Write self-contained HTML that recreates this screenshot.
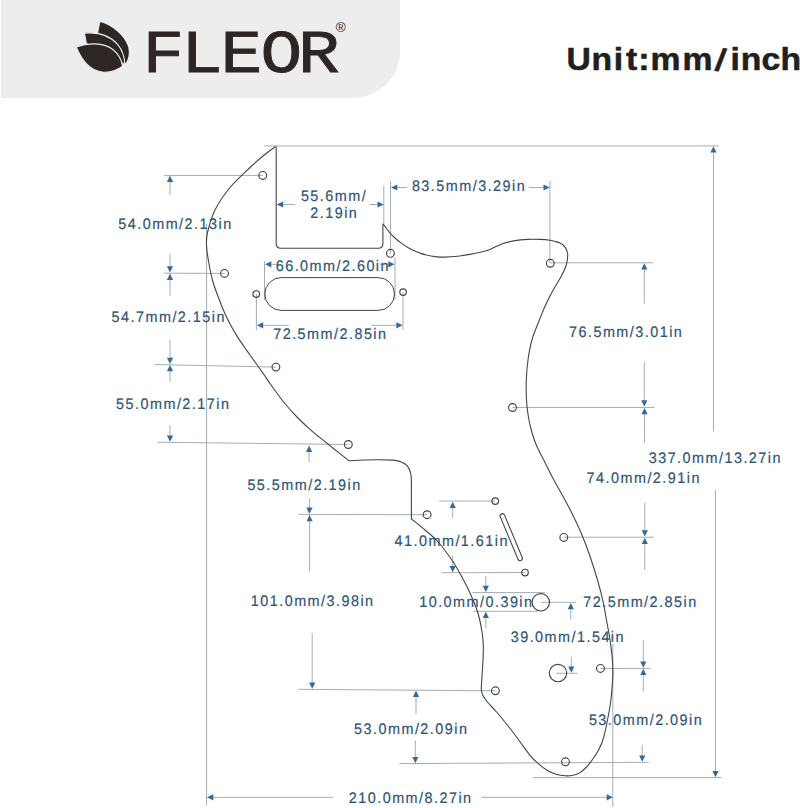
<!DOCTYPE html>
<html lang="en">
<head>
<meta charset="utf-8">
<title>FLEOR pickguard dimensions</title>
<style>
html,body{margin:0;padding:0;background:#fff;}
body{width:800px;height:808px;overflow:hidden;position:relative;font-family:"Liberation Sans",sans-serif;}
#hdr{position:absolute;left:1px;top:0;width:399px;height:98px;background:#ededed;border-bottom-right-radius:48px 46px;}
svg{position:absolute;left:0;top:0;}
svg text{font-family:"Liberation Sans",sans-serif;}
.dim text{font-size:15.3px;letter-spacing:1.57px;fill:#2d5576;stroke:#2d5576;stroke-width:0.2px;text-rendering:geometricPrecision;}
</style>
</head>
<body>
<div id="hdr"></div>

<svg width="800" height="808" viewBox="0 0 800 808">
<g id="logo" fill="#2e2624">
<path d="M100.3 21.9 C112 25.2 123.5 34.5 127.6 45.5 C129.6 51 129.2 57.5 125.7 63.2 L112 48 L98.2 32.6Z"/>
<path d="M84.4 33.1 C98.5 31.8 110.5 36 117.8 44.6 C122.3 50 124.6 57 124.8 64.6 L108 54 L86.3 43.4Z" stroke="#ededed" stroke-width="1.1" stroke-linejoin="round"/>
<path d="M76.3 46.9 C88 42.6 103 42.4 112.2 49 C118 53.3 121.6 59.3 122.6 66.2 C116 71 109 72.6 102.5 72.1 C91 70.8 82 61 76.3 46.9Z" stroke="#ededed" stroke-width="1.1" stroke-linejoin="round"/>
<text id="brand" transform="translate(147.5 72.3) scale(1.14 1)" x="-4.3 29.4 64.0 99.2 132.0" y="0" font-size="61" stroke="#2e2624" stroke-width="0.8" style="font-family:'Liberation Mono',monospace">FLEOR</text>
<text id="reg" x="340.8" y="32.1" font-size="13.6" text-anchor="middle">&#174;</text>
</g>
<text id="unit" transform="scale(1.07 1)" x="529.5 552.8 573.6 585.0 596.6 608.0 637.9 667.6 682.8 692.3 711.7 729.4" y="69.9" rotate="0 0 0 0 0 0 0 9 0 0 0 0" font-size="31.5" font-weight="bold" fill="#231f1f" stroke="#231f1f" stroke-width="0.55">Unit:mm/inch</text>
<g class="lines" fill="none">
<line x1="264.00" y1="145.90" x2="718.80" y2="145.90" stroke="#a3adb8" stroke-width="1"/>
<line x1="713.50" y1="431.30" x2="713.50" y2="151.60" stroke="#a3adb8" stroke-width="1"/>
<polygon points="713.50,146.30 716.60,152.60 710.40,152.60" fill="#356a97"/>
<line x1="715.50" y1="490.00" x2="715.50" y2="771.90" stroke="#a3adb8" stroke-width="1"/>
<polygon points="715.50,777.20 712.40,770.90 718.60,770.90" fill="#356a97"/>
<line x1="533.00" y1="777.60" x2="721.30" y2="777.60" stroke="#a3adb8" stroke-width="1"/>
<line x1="206.60" y1="224.00" x2="206.60" y2="805.50" stroke="#a3adb8" stroke-width="1"/>
<line x1="612.80" y1="644.00" x2="612.80" y2="806.80" stroke="#a3adb8" stroke-width="1"/>
<line x1="333.00" y1="797.30" x2="212.30" y2="797.30" stroke="#a3adb8" stroke-width="1"/>
<polygon points="207.00,797.30 213.30,794.20 213.30,800.40" fill="#356a97"/>
<line x1="481.30" y1="797.30" x2="607.60" y2="797.30" stroke="#a3adb8" stroke-width="1"/>
<polygon points="612.90,797.30 606.60,800.40 606.60,794.20" fill="#356a97"/>
<line x1="164.00" y1="175.40" x2="262.80" y2="175.40" stroke="#a3adb8" stroke-width="1"/>
<line x1="170.00" y1="195.00" x2="170.00" y2="181.10" stroke="#a3adb8" stroke-width="1"/>
<polygon points="170.00,175.80 173.10,182.10 166.90,182.10" fill="#356a97"/>
<line x1="170.00" y1="253.80" x2="170.00" y2="267.30" stroke="#a3adb8" stroke-width="1"/>
<polygon points="170.00,272.60 166.90,266.30 173.10,266.30" fill="#356a97"/>
<line x1="164.00" y1="273.20" x2="224.50" y2="273.40" stroke="#a3adb8" stroke-width="1"/>
<line x1="170.00" y1="296.00" x2="170.00" y2="278.90" stroke="#a3adb8" stroke-width="1"/>
<polygon points="170.00,273.60 173.10,279.90 166.90,279.90" fill="#356a97"/>
<line x1="170.00" y1="340.00" x2="170.00" y2="358.70" stroke="#a3adb8" stroke-width="1"/>
<polygon points="170.00,364.00 166.90,357.70 173.10,357.70" fill="#356a97"/>
<line x1="155.00" y1="364.50" x2="275.90" y2="367.10" stroke="#a3adb8" stroke-width="1"/>
<line x1="170.00" y1="382.00" x2="170.00" y2="370.30" stroke="#a3adb8" stroke-width="1"/>
<polygon points="170.00,365.00 173.10,371.30 166.90,371.30" fill="#356a97"/>
<line x1="170.00" y1="425.00" x2="170.00" y2="436.50" stroke="#a3adb8" stroke-width="1"/>
<polygon points="170.00,441.80 166.90,435.50 173.10,435.50" fill="#356a97"/>
<line x1="157.50" y1="442.20" x2="348.30" y2="444.50" stroke="#a3adb8" stroke-width="1"/>
<line x1="309.10" y1="461.90" x2="309.10" y2="450.90" stroke="#a3adb8" stroke-width="1"/>
<polygon points="309.10,445.60 312.20,451.90 306.00,451.90" fill="#356a97"/>
<line x1="309.40" y1="498.80" x2="309.40" y2="508.60" stroke="#a3adb8" stroke-width="1"/>
<polygon points="309.40,513.90 306.30,507.60 312.50,507.60" fill="#356a97"/>
<line x1="298.80" y1="514.40" x2="427.00" y2="514.70" stroke="#a3adb8" stroke-width="1"/>
<line x1="309.60" y1="571.30" x2="309.60" y2="520.30" stroke="#a3adb8" stroke-width="1"/>
<polygon points="309.60,515.00 312.70,521.30 306.50,521.30" fill="#356a97"/>
<line x1="312.20" y1="633.00" x2="312.20" y2="683.40" stroke="#a3adb8" stroke-width="1"/>
<polygon points="312.20,688.70 309.10,682.40 315.30,682.40" fill="#356a97"/>
<line x1="298.00" y1="689.30" x2="495.40" y2="690.80" stroke="#a3adb8" stroke-width="1"/>
<line x1="416.00" y1="714.30" x2="416.00" y2="695.90" stroke="#a3adb8" stroke-width="1"/>
<polygon points="416.00,690.60 419.10,696.90 412.90,696.90" fill="#356a97"/>
<line x1="415.30" y1="740.50" x2="415.30" y2="757.90" stroke="#a3adb8" stroke-width="1"/>
<polygon points="415.30,763.20 412.20,756.90 418.40,756.90" fill="#356a97"/>
<line x1="399.50" y1="763.60" x2="648.80" y2="762.30" stroke="#a3adb8" stroke-width="1"/>
<line x1="383.80" y1="186.00" x2="383.80" y2="224.00" stroke="#a3adb8" stroke-width="1"/>
<line x1="295.00" y1="204.50" x2="282.10" y2="204.50" stroke="#a3adb8" stroke-width="1"/>
<polygon points="276.80,204.50 283.10,201.40 283.10,207.60" fill="#356a97"/>
<line x1="369.50" y1="204.50" x2="378.50" y2="204.50" stroke="#a3adb8" stroke-width="1"/>
<polygon points="383.80,204.50 377.50,207.60 377.50,201.40" fill="#356a97"/>
<line x1="390.50" y1="180.80" x2="390.50" y2="253.30" stroke="#a3adb8" stroke-width="1"/>
<line x1="549.90" y1="180.80" x2="549.90" y2="263.30" stroke="#a3adb8" stroke-width="1"/>
<line x1="407.00" y1="187.50" x2="396.30" y2="187.50" stroke="#a3adb8" stroke-width="1"/>
<polygon points="391.00,187.50 397.30,184.40 397.30,190.60" fill="#356a97"/>
<line x1="528.80" y1="187.50" x2="544.50" y2="187.50" stroke="#a3adb8" stroke-width="1"/>
<polygon points="549.80,187.50 543.50,190.60 543.50,184.40" fill="#356a97"/>
<line x1="264.50" y1="261.00" x2="264.50" y2="300.00" stroke="#a3adb8" stroke-width="1"/>
<line x1="395.00" y1="257.50" x2="395.00" y2="300.00" stroke="#a3adb8" stroke-width="1"/>
<line x1="280.00" y1="264.30" x2="270.30" y2="264.30" stroke="#a3adb8" stroke-width="1"/>
<polygon points="265.00,264.30 271.30,261.20 271.30,267.40" fill="#356a97"/>
<line x1="380.00" y1="264.30" x2="389.30" y2="264.30" stroke="#a3adb8" stroke-width="1"/>
<polygon points="394.60,264.30 388.30,267.40 388.30,261.20" fill="#356a97"/>
<line x1="256.40" y1="294.00" x2="256.40" y2="330.00" stroke="#a3adb8" stroke-width="1"/>
<line x1="403.00" y1="292.10" x2="403.00" y2="330.00" stroke="#a3adb8" stroke-width="1"/>
<line x1="288.80" y1="325.30" x2="262.20" y2="325.30" stroke="#a3adb8" stroke-width="1"/>
<polygon points="256.90,325.30 263.20,322.20 263.20,328.40" fill="#356a97"/>
<line x1="371.30" y1="325.30" x2="397.30" y2="325.30" stroke="#a3adb8" stroke-width="1"/>
<polygon points="402.60,325.30 396.30,328.40 396.30,322.20" fill="#356a97"/>
<line x1="550.30" y1="262.80" x2="653.00" y2="262.80" stroke="#a3adb8" stroke-width="1"/>
<line x1="644.30" y1="303.80" x2="644.30" y2="268.60" stroke="#a3adb8" stroke-width="1"/>
<polygon points="644.30,263.30 647.40,269.60 641.20,269.60" fill="#356a97"/>
<line x1="644.30" y1="362.00" x2="644.30" y2="401.30" stroke="#a3adb8" stroke-width="1"/>
<polygon points="644.30,406.60 641.20,400.30 647.40,400.30" fill="#356a97"/>
<line x1="512.50" y1="407.40" x2="654.50" y2="407.40" stroke="#a3adb8" stroke-width="1"/>
<line x1="644.50" y1="442.50" x2="644.50" y2="413.30" stroke="#a3adb8" stroke-width="1"/>
<polygon points="644.50,408.00 647.60,414.30 641.40,414.30" fill="#356a97"/>
<line x1="644.80" y1="502.50" x2="644.80" y2="531.20" stroke="#a3adb8" stroke-width="1"/>
<polygon points="644.80,536.50 641.70,530.20 647.90,530.20" fill="#356a97"/>
<line x1="563.80" y1="537.20" x2="653.80" y2="537.20" stroke="#a3adb8" stroke-width="1"/>
<line x1="644.80" y1="570.00" x2="644.80" y2="543.10" stroke="#a3adb8" stroke-width="1"/>
<polygon points="644.80,537.80 647.90,544.10 641.70,544.10" fill="#356a97"/>
<line x1="643.30" y1="640.00" x2="643.30" y2="662.40" stroke="#a3adb8" stroke-width="1"/>
<polygon points="643.30,667.70 640.20,661.40 646.40,661.40" fill="#356a97"/>
<line x1="600.50" y1="668.50" x2="650.50" y2="668.40" stroke="#a3adb8" stroke-width="1"/>
<line x1="643.30" y1="691.30" x2="643.30" y2="674.10" stroke="#a3adb8" stroke-width="1"/>
<polygon points="643.30,668.80 646.40,675.10 640.20,675.10" fill="#356a97"/>
<line x1="642.20" y1="744.80" x2="642.20" y2="756.50" stroke="#a3adb8" stroke-width="1"/>
<polygon points="642.20,761.80 639.10,755.50 645.30,755.50" fill="#356a97"/>
<line x1="439.30" y1="501.00" x2="495.30" y2="501.00" stroke="#a3adb8" stroke-width="1"/>
<line x1="452.70" y1="518.00" x2="452.70" y2="507.00" stroke="#a3adb8" stroke-width="1"/>
<polygon points="452.70,501.70 455.80,508.00 449.60,508.00" fill="#356a97"/>
<line x1="452.70" y1="555.60" x2="452.70" y2="566.90" stroke="#a3adb8" stroke-width="1"/>
<polygon points="452.70,572.20 449.60,565.90 455.80,565.90" fill="#356a97"/>
<line x1="441.30" y1="572.70" x2="525.00" y2="572.60" stroke="#a3adb8" stroke-width="1"/>
<line x1="485.80" y1="576.30" x2="485.80" y2="586.70" stroke="#a3adb8" stroke-width="1"/>
<polygon points="485.80,592.00 482.70,585.70 488.90,585.70" fill="#356a97"/>
<line x1="472.50" y1="592.60" x2="545.00" y2="592.60" stroke="#a3adb8" stroke-width="1"/>
<line x1="473.80" y1="611.30" x2="537.50" y2="611.30" stroke="#a3adb8" stroke-width="1"/>
<line x1="485.80" y1="628.00" x2="485.80" y2="617.10" stroke="#a3adb8" stroke-width="1"/>
<polygon points="485.80,611.80 488.90,618.10 482.70,618.10" fill="#356a97"/>
<line x1="540.80" y1="602.30" x2="576.30" y2="602.30" stroke="#a3adb8" stroke-width="1"/>
<line x1="570.80" y1="619.50" x2="570.80" y2="608.20" stroke="#a3adb8" stroke-width="1"/>
<polygon points="570.80,602.90 573.90,609.20 567.70,609.20" fill="#356a97"/>
<line x1="571.30" y1="656.80" x2="571.30" y2="667.50" stroke="#a3adb8" stroke-width="1"/>
<polygon points="571.30,672.80 568.20,666.50 574.40,666.50" fill="#356a97"/>
<line x1="556.30" y1="673.30" x2="577.50" y2="673.30" stroke="#a3adb8" stroke-width="1"/>
<circle cx="262.75" cy="175.40" r="3.90" fill="none" stroke="#454545" stroke-width="1.15"/>
<circle cx="224.50" cy="273.40" r="3.90" fill="none" stroke="#454545" stroke-width="1.15"/>
<circle cx="275.90" cy="367.10" r="3.90" fill="none" stroke="#454545" stroke-width="1.15"/>
<circle cx="348.30" cy="444.50" r="3.90" fill="none" stroke="#454545" stroke-width="1.15"/>
<circle cx="427.10" cy="514.70" r="3.90" fill="none" stroke="#454545" stroke-width="1.15"/>
<circle cx="495.40" cy="690.80" r="3.90" fill="none" stroke="#454545" stroke-width="1.15"/>
<circle cx="565.50" cy="761.80" r="3.90" fill="none" stroke="#454545" stroke-width="1.15"/>
<circle cx="600.45" cy="668.40" r="3.90" fill="none" stroke="#454545" stroke-width="1.15"/>
<circle cx="563.80" cy="537.40" r="3.90" fill="none" stroke="#454545" stroke-width="1.15"/>
<circle cx="512.50" cy="407.50" r="3.90" fill="none" stroke="#454545" stroke-width="1.15"/>
<circle cx="550.30" cy="263.30" r="3.90" fill="none" stroke="#454545" stroke-width="1.15"/>
<circle cx="390.40" cy="253.30" r="3.90" fill="none" stroke="#454545" stroke-width="1.15"/>
<circle cx="256.25" cy="294.00" r="3.30" fill="none" stroke="#454545" stroke-width="1.15"/>
<circle cx="403.10" cy="292.10" r="3.30" fill="none" stroke="#454545" stroke-width="1.15"/>
<circle cx="495.25" cy="501.10" r="3.30" fill="none" stroke="#454545" stroke-width="1.15"/>
<circle cx="525.00" cy="572.50" r="3.30" fill="none" stroke="#454545" stroke-width="1.15"/>
<circle cx="540.80" cy="602.30" r="8.70" fill="none" stroke="#454545" stroke-width="1.15"/>
<circle cx="558.00" cy="673.00" r="8.70" fill="none" stroke="#454545" stroke-width="1.15"/>
<rect x="264.8" y="277.6" width="129.7" height="32.8" rx="16.4" fill="none" stroke="#454545" stroke-width="1"/>
<line x1="502.4" y1="516" x2="520.1" y2="558.4" stroke="#454545" stroke-width="5.7" stroke-linecap="round"/>
<line x1="502.4" y1="516" x2="520.1" y2="558.4" stroke="#fff" stroke-width="3.5" stroke-linecap="round"/>
<path d="M276.2 146.5 L276.2 243.6 Q276.2 248.3 281 248.3 L378.2 248.3 Q382.9 248.3 382.9 243.6 L382.9 226 Q382.9 224 383.4 224.3 C383.87 224.92 385.10 226.53 386.20 228.00 C387.30 229.47 388.45 231.35 390.00 233.10 C391.55 234.85 393.62 236.83 395.50 238.50 C397.38 240.17 399.25 241.65 401.25 243.10 C403.25 244.55 405.42 245.95 407.50 247.20 C409.58 248.45 411.67 249.62 413.75 250.60 C415.83 251.58 417.92 252.37 420.00 253.10 C422.08 253.83 423.75 254.42 426.25 255.00 C428.75 255.58 431.88 256.25 435.00 256.60 C438.12 256.95 441.25 257.16 445.00 257.10 C448.75 257.04 453.33 256.70 457.50 256.25 C461.67 255.80 466.25 255.06 470.00 254.40 C473.75 253.74 476.67 253.13 480.00 252.30 C483.33 251.47 486.25 250.83 490.00 249.40 C493.75 247.97 498.33 245.22 502.50 243.75 C506.67 242.28 510.83 241.32 515.00 240.60 C519.17 239.88 523.33 239.60 527.50 239.40 C531.67 239.20 536.25 239.27 540.00 239.40 C543.75 239.53 547.33 239.83 550.00 240.20 C552.67 240.57 554.33 241.12 556.00 241.60 C557.67 242.08 558.67 242.37 560.00 243.10 C561.33 243.83 562.93 244.93 564.00 246.00 C565.07 247.07 565.77 248.00 566.40 249.50 C567.02 251.00 567.77 252.42 567.75 255.00 C567.73 257.58 567.33 261.46 566.25 265.00 C565.17 268.54 563.54 271.88 561.25 276.25 C558.96 280.62 555.21 286.25 552.50 291.25 C549.79 296.25 547.18 301.46 545.00 306.25 C542.82 311.04 541.58 314.38 539.40 320.00 C537.22 325.62 533.80 333.33 531.90 340.00 C530.00 346.67 528.93 353.33 528.00 360.00 C527.07 366.67 526.55 373.33 526.30 380.00 C526.05 386.67 526.20 394.17 526.50 400.00 C526.80 405.83 527.31 410.00 528.10 415.00 C528.89 420.00 529.89 425.00 531.25 430.00 C532.61 435.00 534.17 440.00 536.25 445.00 C538.33 450.00 541.04 454.58 543.75 460.00 C546.46 465.42 548.96 470.83 552.50 477.50 C556.04 484.17 561.46 493.42 565.00 500.00 C568.54 506.58 570.83 510.96 573.75 517.00 C576.67 523.04 579.79 529.71 582.50 536.25 C585.21 542.79 587.50 548.96 590.00 556.25 C592.50 563.54 595.38 572.71 597.50 580.00 C599.62 587.29 601.20 593.33 602.70 600.00 C604.20 606.67 605.28 613.33 606.50 620.00 C607.72 626.67 609.02 633.33 610.00 640.00 C610.98 646.67 611.93 654.00 612.40 660.00 C612.87 666.00 612.97 670.17 612.80 676.00 C612.63 681.83 611.97 689.33 611.40 695.00 C610.83 700.67 610.72 702.83 609.40 710.00 C608.08 717.17 605.40 731.17 603.50 738.00 C601.60 744.83 599.83 747.42 598.00 751.00 C596.17 754.58 594.42 756.83 592.50 759.50 C590.58 762.17 588.58 764.82 586.50 767.00 C584.42 769.18 582.25 771.22 580.00 772.60 C577.75 773.98 575.50 774.77 573.00 775.30 C570.50 775.83 567.83 775.98 565.00 775.80 C562.17 775.62 558.92 775.08 556.00 774.20 C553.08 773.32 550.42 772.23 547.50 770.50 C544.58 768.77 541.42 766.33 538.50 763.80 C535.58 761.27 533.29 759.27 530.00 755.30 C526.71 751.33 522.20 744.63 518.75 740.00 C515.30 735.37 512.92 732.08 509.30 727.50 C505.68 722.92 500.58 716.67 497.00 712.50 C493.42 708.33 490.07 705.17 487.80 702.50 C485.53 699.83 484.47 698.58 483.40 696.50 C482.33 694.42 481.65 693.17 481.40 690.00 C481.15 686.83 481.62 682.71 481.90 677.50 C482.18 672.29 482.87 664.17 483.10 658.75 C483.33 653.33 483.45 649.29 483.30 645.00 C483.15 640.71 482.83 637.33 482.20 633.00 C481.57 628.67 480.49 623.17 479.50 619.00 C478.51 614.83 477.83 612.33 476.25 608.00 C474.67 603.67 472.29 598.00 470.00 593.00 C467.71 588.00 465.42 583.33 462.50 578.00 C459.58 572.67 456.67 567.12 452.50 561.00 C448.33 554.88 442.08 546.42 437.50 541.25 C432.92 536.08 429.35 533.71 425.00 530.00 C420.65 526.29 413.67 520.83 411.40 519.00 L411.4 481 C411.4 468.5 407.5 461.5 393 460.1 C380 459.4 365 459.7 349.5 460.7 C349.17 460.52 349.92 461.43 347.50 459.60 C345.08 457.77 339.17 453.03 335.00 449.70 C330.83 446.37 326.67 443.00 322.50 439.60 C318.33 436.20 314.17 432.98 310.00 429.30 C305.83 425.62 301.67 421.76 297.50 417.50 C293.33 413.24 288.75 408.25 285.00 403.75 C281.25 399.25 277.71 394.19 275.00 390.50 C272.29 386.81 270.83 384.60 268.75 381.60 C266.67 378.60 264.58 375.48 262.50 372.50 C260.42 369.52 258.33 366.67 256.25 363.75 C254.17 360.83 252.08 357.92 250.00 355.00 C247.92 352.08 245.83 349.27 243.75 346.25 C241.67 343.23 239.58 340.23 237.50 336.90 C235.42 333.57 233.33 330.11 231.25 326.25 C229.17 322.39 226.97 318.12 225.00 313.75 C223.03 309.38 221.40 305.29 219.40 300.00 C217.40 294.71 214.78 288.25 213.00 282.00 C211.22 275.75 209.83 268.67 208.75 262.50 C207.67 256.33 206.71 250.00 206.50 245.00 C206.29 240.00 206.08 238.33 207.50 232.50 C208.92 226.67 211.25 217.50 215.00 210.00 C218.75 202.50 224.17 194.58 230.00 187.50 C235.83 180.42 244.50 172.75 250.00 167.50 C255.50 162.25 258.75 159.50 263.00 156.00 C267.25 152.50 273.42 148.08 275.50 146.50" fill="none" stroke="#454545" stroke-width="1.1" stroke-linejoin="miter"/>
</g>
<g class="dim">
<text transform="translate(118.30 229.20) scale(0.94 1)">54.0mm/2.13in</text>
<text transform="translate(111.60 322.00) scale(0.94 1)">54.7mm/2.15in</text>
<text transform="translate(116.10 408.50) scale(0.94 1)">55.0mm/2.17in</text>
<text transform="translate(247.40 490.10) scale(0.94 1)">55.5mm/2.19in</text>
<text transform="translate(250.80 606.00) scale(0.94 1)">101.0mm/3.98in</text>
<text transform="translate(354.10 733.50) scale(0.94 1)">53.0mm/2.09in</text>
<text transform="translate(348.80 803.00) scale(0.94 1)">210.0mm/8.27in</text>
<text transform="translate(411.90 191.40) scale(0.94 1)">83.5mm/3.29in</text>
<text transform="translate(275.70 270.60) scale(0.94 1)">66.0mm/2.60in</text>
<text transform="translate(273.20 339.40) scale(0.94 1)">72.5mm/2.85in</text>
<text transform="translate(569.00 336.70) scale(0.94 1)">76.5mm/3.01in</text>
<text transform="translate(648.70 462.90) scale(0.94 1)">337.0mm/13.27in</text>
<text transform="translate(586.60 482.70) scale(0.94 1)">74.0mm/2.91in</text>
<text transform="translate(394.60 545.90) scale(0.94 1)">41.0mm/1.61in</text>
<text transform="translate(419.20 607.20) scale(0.94 1)">10.0mm/0.39in</text>
<text transform="translate(583.30 607.20) scale(0.94 1)">72.5mm/2.85in</text>
<text transform="translate(510.70 642.20) scale(0.94 1)">39.0mm/1.54in</text>
<text transform="translate(588.90 724.50) scale(0.94 1)">53.0mm/2.09in</text>
<text transform="translate(300.90 200.70) scale(0.94 1)">55.6mm/</text>
<text transform="translate(310.30 218.30) scale(0.94 1)">2.19in</text>
</g>
</svg>
</body>
</html>
